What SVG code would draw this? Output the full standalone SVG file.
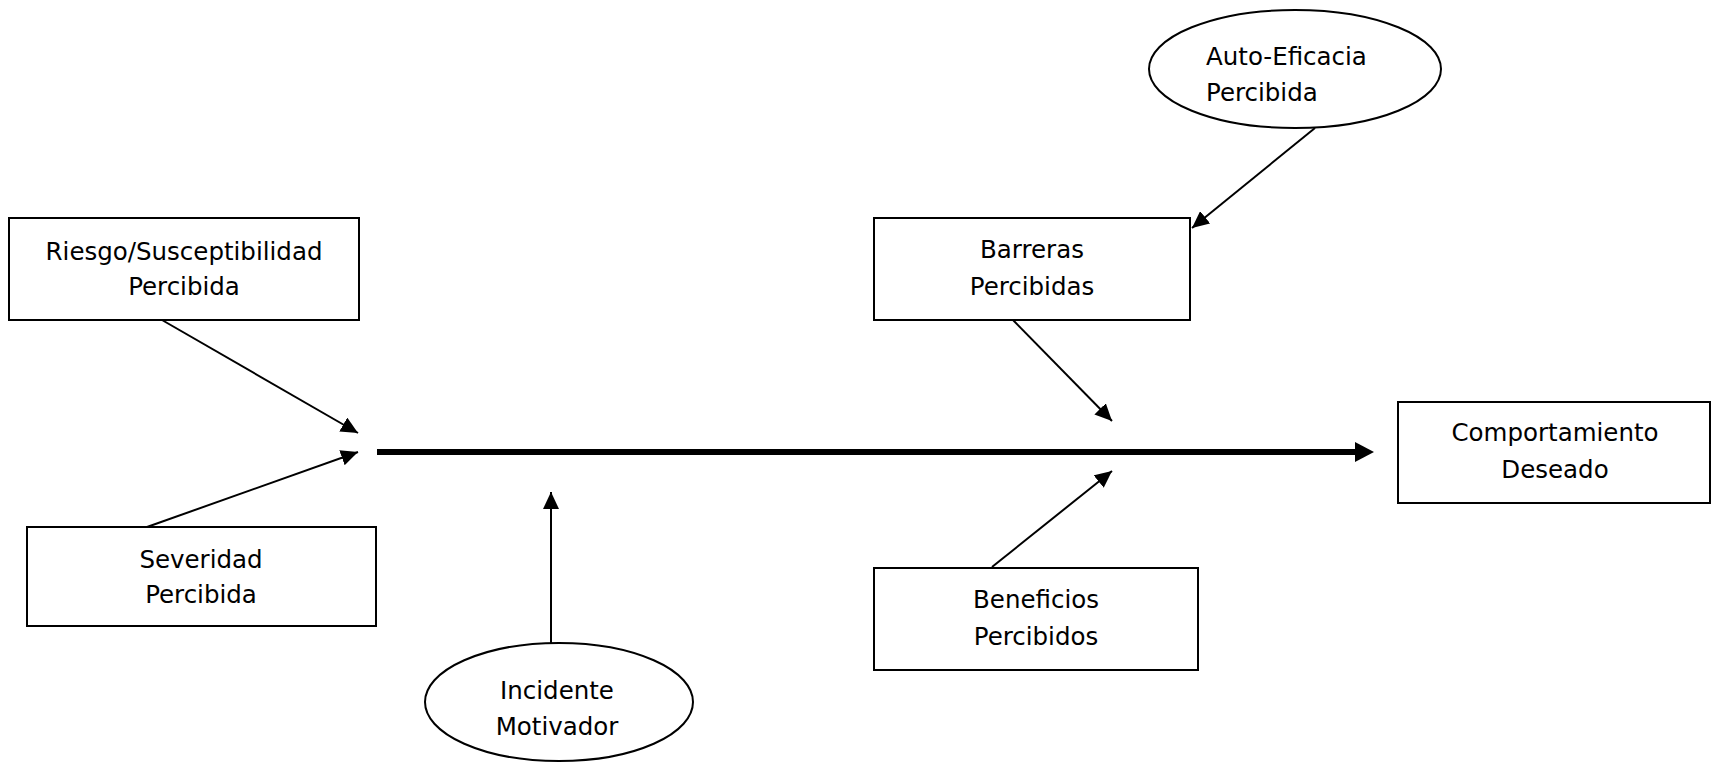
<svg xmlns="http://www.w3.org/2000/svg" width="1711" height="762" viewBox="0 0 1711 762">
<style>
.box{fill:#fff;stroke:#000;stroke-width:2}
.ell{fill:#fff;stroke:#000;stroke-width:2}
text{font-family:"DejaVu Sans","Liberation Sans",sans-serif;font-size:24.5px;fill:#000}
.c{text-anchor:middle}
.conn{stroke:#000;stroke-width:2;fill:none;marker-end:url(#ah)}
.main{stroke:#000;stroke-width:6;fill:none;marker-end:url(#ahb)}
</style>
<defs>
<marker id="ah" markerUnits="userSpaceOnUse" markerWidth="18" markerHeight="16" refX="17" refY="8" orient="auto">
<path d="M0,0 L17,8 L0,16 z" fill="#000"/>
</marker>
<marker id="ahb" markerUnits="userSpaceOnUse" markerWidth="20" markerHeight="22" refX="0" refY="10" orient="auto">
<path d="M0,0 L19,10 L0,20 z" fill="#000"/>
</marker>
</defs>
<g id="connectors">
<line class="main" x1="377" y1="452" x2="1355" y2="452"/>
<line class="conn" x1="162" y1="320" x2="358" y2="433"/>
<line class="conn" x1="147" y1="527" x2="358" y2="452"/>
<line class="conn" x1="551" y1="643" x2="551" y2="492"/>
<line class="conn" x1="1315" y1="128" x2="1192" y2="228"/>
<line class="conn" x1="1013" y1="320" x2="1112" y2="421"/>
<line class="conn" x1="992" y1="567" x2="1112" y2="471"/>
</g>
<g id="riesgo">
<rect class="box" x="9" y="218" width="350" height="102"/>
<text class="c" x="184" y="260">Riesgo/Susceptibilidad</text>
<text class="c" x="184" y="295">Percibida</text>
</g>
<g id="severidad">
<rect class="box" x="27" y="527" width="349" height="99"/>
<text class="c" x="201" y="568">Severidad</text>
<text class="c" x="201" y="603">Percibida</text>
</g>
<g id="incidente">
<ellipse class="ell" cx="559" cy="702" rx="134" ry="59"/>
<text class="c" x="557" y="699">Incidente</text>
<text class="c" x="557" y="735">Motivador</text>
</g>
<g id="autoeficacia">
<ellipse class="ell" cx="1295" cy="69" rx="146" ry="59"/>
<text x="1206" y="65">Auto-Eficacia</text>
<text x="1206" y="101">Percibida</text>
</g>
<g id="barreras">
<rect class="box" x="874" y="218" width="316" height="102"/>
<text class="c" x="1032" y="258">Barreras</text>
<text class="c" x="1032" y="295">Percibidas</text>
</g>
<g id="beneficios">
<rect class="box" x="874" y="568" width="324" height="102"/>
<text class="c" x="1036" y="608">Beneficios</text>
<text class="c" x="1036" y="645">Percibidos</text>
</g>
<g id="comportamiento">
<rect class="box" x="1398" y="402" width="312" height="101"/>
<text class="c" x="1555" y="441">Comportamiento</text>
<text class="c" x="1555" y="478">Deseado</text>
</g>
</svg>
